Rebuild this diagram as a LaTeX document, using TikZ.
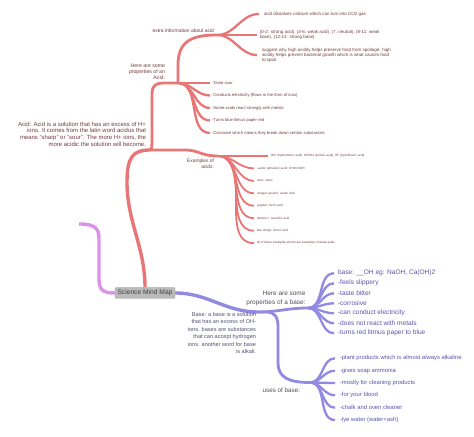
\documentclass[tikz,border=0pt]{standalone}
\usepackage{fontspec}
\setmainfont{Liberation Sans}
\usetikzlibrary{positioning,backgrounds}

\definecolor{acidred}{RGB}{232,118,118}
\definecolor{basepurple}{RGB}{146,138,226}
\definecolor{mappink}{RGB}{220,146,232}
\definecolor{hubgray}{RGB}{186,186,186}
\definecolor{acidink}{RGB}{112,58,62}
\definecolor{baseink}{RGB}{88,84,176}
\definecolor{greyink}{RGB}{78,78,92}

\newcommand{\fs}[2]{\fontsize{#1}{#2}\selectfont}

\begin{document}
\begin{tikzpicture}[x=1bp, y=1bp, line cap=round,
  trunk/.style={line width=3.4bp},
  twig/.style={line width=2.8bp},
  leaf/.style={line width=2.3bp},
  thinleaf/.style={line width=1.8bp},
  note/.style={inner sep=0pt, outer sep=0pt},
  hub/.style={fill=hubgray, draw=hubgray!85!black, line width=0.3bp, rounded corners=1bp,
    minimum width=60bp, minimum height=11bp, inner sep=1bp, text=black!75, font=\fs{6.7}{8}}]

  \useasboundingbox (0,0) rectangle (474,437);

  % central topic
  \node[hub] (C) at (145,144) {Science Mind Map};

  % ports where the branches meet
  \coordinate (AD) at (150,287);  % acid definition
  \coordinate (PA) at (178,354);  % acid properties
  \coordinate (PE) at (217,402);  % extra information
  \coordinate (PX) at (218,281);  % examples of acids
  \coordinate (PB) at (258,125);  % base definition
  \coordinate (PP) at (308,129);  % base properties
  \coordinate (PU) at (310,54.5); % uses of base
  \coordinate (pinkend) at (79,213);

  % ---------------- acid side ----------------
  \node[note, align=right, anchor=south east, text=acidink, font=\fs{6}{7}] (ADt) at (146,290)
    {Acid: Acid is a solution that has an excess of H+\\ions. It comes from the latin word acidus that\\means "sharp" or "sour". The more H+ ions, the\\more acidic the solution will become.};
  \node[note, align=right, anchor=south east, text=acidink, font=\fs{5.2}{6.2}] (PAt) at (165,357)
    {Here are some\\properties of an\\Acid.};
  \node[note, anchor=south east, text=acidink, font=\fs{5}{6}] (PEt) at (214,404)
    {extra information about acid};
  \node[note, align=right, anchor=north east, text=acidink, font=\fs{4.9}{5.8}] (PXt) at (214,278)
    {Examples of\\acids:};

  % extra information
  \coordinate (e1) at (259,423);
  \coordinate (e2) at (257,402);
  \coordinate (e3) at (257,382);
  \node[note, right=5bp of e1, text=acidink, font=\fs{4.5}{5.4}] (e1t)
    {acid dissolves calcium which can turn into CO2 gas};
  \node[note, right=3bp of e2, align=left, text=acidink, font=\fs{4.5}{5.6}] (e2t)
    {(0-2: strong acid), (3-6: weak acid), (7: neutral), (8-11: weak\\base), (12-14: strong base)};
  \node[note, right=5bp of e3, align=left, text=acidink, font=\fs{4.5}{5}] (e3t)
    {suggest why high acidity helps preserve food from spoilage: high\\acidity helps prevent bacterial growth which is what causes food\\to spoil};

  % properties of an acid
  \foreach \t [count=\i from 0] in {-Taste sour,
      -Conducts electricity (flows in the form of ions),
      -Some acids react strongly with metals,
      -Turns blue litmus paper red,
      -Corrosive which means they break down certain substances} {
    \coordinate (ap\i) at (210,{354-12.5*\i});
    \node[note, right=2bp of ap\i, text=acidink, font=\fs{4.2}{5}] (apt\i) {\t};
  }

  % examples of acids
  \foreach \t [count=\i from 0] in {{HCl (hydrochloric acid), H2SO4 (sulfuric acid), HF (hydrofluoric acid)},
      {-acetic (ethanoic) acid: CH3COOH},
      {citric: citrus},
      {vinegar (acetic): acetic acid},
      {yoghurt: lactic acid},
      {vitamin c: ascorbic acid},
      {bee stings: formic acid},
      {all of these examples shown are examples of weak acids}} {
    \pgfmathsetmacro\ex{\i==0 ? 268 : 254}
    \coordinate (ax\i) at (\ex,{281-12.45*\i});
    \node[note, right=3bp of ax\i, text=acidink, font=\fs{3.1}{4}] (axt\i) {\t};
  }

  % ---------------- base side ----------------
  \node[note, align=right, anchor=north east, text=greyink!70!baseink, font=\fs{5.6}{7.4}] (PBt) at (256,124.5)
    {Base: a base is a solution\\that has an excess of OH-\\ions. bases are substances\\that can accept hydrogen\\ions. another word for base\\is alkali.};
  \node[note, align=right, anchor=south east, text=greyink, font=\fs{6.5}{9.4}] (PPt) at (305.5,131.2)
    {Here are some\\properties of a base:};
  \node[note, anchor=east, text=greyink, font=\fs{6.3}{7}] (PUt) at (300,47)
    {uses of base:};

  \foreach \t [count=\i from 0] in {{base: \_\_OH eg: NaOH, Ca(OH)2},
      -feels slippery, -taste bitter, -corrosive, -can conduct electricity,
      -does not react with metals, -turns red litmus paper to blue} {
    \coordinate (bp\i) at (334,{163.7-10*\i});
    \node[note, right=4bp of bp\i, text=baseink, font=\fs{6.6}{8}] (bpt\i) {\t};
  }

  \foreach \t [count=\i from 0] in {-plant products which is almost always alkaline,
      -gives soap ammonia, -mostly for cleaning products, -for your blood,
      -chalk and oven cleaner, -lye water (water+ash)} {
    \coordinate (bu\i) at (335,{78.7-12.35*\i});
    \node[note, right=5bp of bu\i, text=baseink, font=\fs{5.9}{7}] (but\i) {\t};
  }

  % ---------------- connectors ----------------
  \begin{scope}[on background layer]
    % pink stub
    \draw[trunk, mappink] (C.west) .. controls (103,144) and (99,147) .. (99,158)
      -- (99,198) .. controls (99,208) and (96,213) .. (pinkend);

    % acid
    \draw[trunk, acidred] (C.north) .. controls (145,190) and (127,215) .. (127,255)
      .. controls (127,280) and (133,287) .. (AD);
    \draw[twig, acidred] (AD) .. controls (152,287) and (152,291) .. (152,300)
      -- (152,344) .. controls (152,351) and (156,354) .. (163,354) -- (PA);
    \draw[twig, acidred] (AD) -- (184,287) .. controls (200,287) and (200,281) .. (PX);
    \draw[twig, acidred] (PA) -- (178,372) .. controls (178,396) and (192,402) .. (PE);
    \foreach \e in {e1,e2,e3}
      \draw[leaf, acidred] (PE) to[out=0,in=180] (\e);
    \foreach \i in {0,...,4}
      \draw[leaf, acidred] (PA) to[out=0,in=180] (ap\i);
    \foreach \i in {0,...,7}
      \draw[thinleaf, acidred] (PX) to[out=0,in=180] (ax\i);

    % base
    \draw[trunk, basepurple] (C.east) to[out=0,in=180] (PB);
    \draw[twig, basepurple] (PB) to[out=0,in=180] (PP);
    \draw[twig, basepurple] (PB) -- (266,125) .. controls (275,125) and (278,120) .. (278,110)
      -- (278,74) .. controls (278,60) and (288,54.5) .. (PU);
    \foreach \i in {0,...,6}
      \draw[leaf, basepurple] (PP) to[out=0,in=180] (bp\i);
    \foreach \i in {0,...,5}
      \draw[leaf, basepurple] (PU) to[out=0,in=180] (bu\i);
  \end{scope}
\end{tikzpicture}
\end{document}
